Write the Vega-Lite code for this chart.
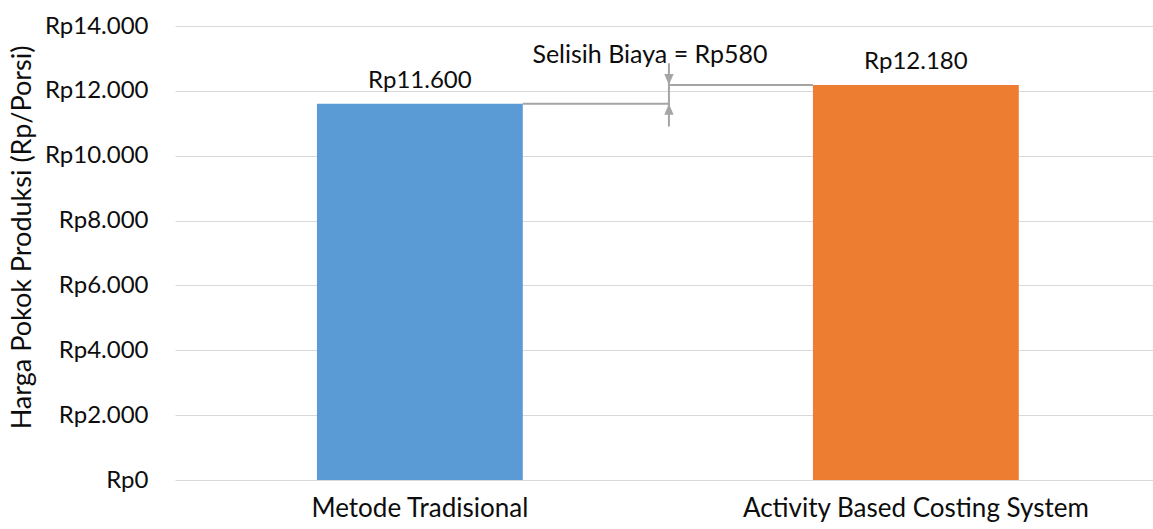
{
  "$schema": "https://vega.github.io/schema/vega-lite/v6.json",
  "autosize": "none",
  "width": 978,
  "height": 454,
  "padding": {"left": 175, "top": 26, "right": 0, "bottom": 49},
  "background": "white",
  "config": {
    "locale": {"number": {"decimal": ",", "thousands": ".", "grouping": [3], "currency": ["Rp", ""]}},
    "view": {"stroke": null},
    "font": "Lato"
  },
  "layer": [
    {
      "data": {"values": [
        {"metode": "Metode Tradisional", "biaya": 11600},
        {"metode": "Activity Based Costing System", "biaya": 12180}
      ]},
      "layer": [
        {
          "mark": {"type": "bar"},
          "encoding": {
            "x": {"field": "metode", "type": "nominal", "sort": null,
              "scale": {"domain": ["Metode Tradisional", "Activity Based Costing System"], "paddingInner": 0.585, "paddingOuter": 0.2784, "align": 0.514},
              "axis": {"title": null, "labelAngle": 0, "labelLimit": 0, "domain": false, "ticks": false, "labelFontSize": 26, "labelColor": "#0d0d0d", "labelBaseline": "alphabetic", "labelPadding": 36, "labelFont": "Lato"}},
            "y": {"field": "biaya", "type": "quantitative",
              "scale": {"domain": [0, 14000]},
              "axis": {"title": "Harga Pokok Produksi (Rp/Porsi)", "values": [0, 2000, 4000, 6000, 8000, 10000, 12000, 14000], "format": "$,.0f", "domain": false, "ticks": false, "labelFontSize": 24, "labelColor": "#0d0d0d", "labelPadding": 27, "gridColor": "#d9d9d9", "gridWidth": 1.2, "titleFontSize": 27, "titleFontWeight": "normal", "titleColor": "#0d0d0d", "titlePadding": 8, "titleY": 211, "labelFont": "Lato", "titleFont": "Lato"}},
            "color": {"field": "metode", "type": "nominal", "legend": null,
              "scale": {"domain": ["Metode Tradisional", "Activity Based Costing System"], "range": ["#5B9BD5", "#ED7D31"]}}
          }
        },
        {
          "mark": {"type": "text", "baseline": "alphabetic", "dy": -16, "fontSize": 24, "color": "#0d0d0d", "font": "Lato"},
          "encoding": {
            "x": {"field": "metode", "type": "nominal"},
            "y": {"field": "biaya", "type": "quantitative"},
            "text": {"field": "biaya", "type": "quantitative", "format": "$,.0f"}
          }
        }
      ]
    },
    {
      "data": {"values": [{"metode": "Metode Tradisional", "biaya": 11600}]},
      "mark": {"type": "rule", "color": "#a5a5a5", "strokeWidth": 2},
      "encoding": {
        "x": {"field": "metode", "type": "nominal", "bandPosition": 1},
        "x2": {"field": "metode", "bandPosition": 1.71},
        "y": {"field": "biaya", "type": "quantitative"}
      }
    },
    {
      "data": {"values": [{"metode": "Activity Based Costing System", "biaya": 12180}]},
      "mark": {"type": "rule", "color": "#a5a5a5", "strokeWidth": 2},
      "encoding": {
        "x": {"field": "metode", "type": "nominal", "bandPosition": -0.7},
        "x2": {"field": "metode", "bandPosition": 0},
        "y": {"field": "biaya", "type": "quantitative"}
      }
    },
    {
      "data": {"values": [{"metode": "Metode Tradisional", "atas": 12850, "bawah": 10900}]},
      "mark": {"type": "rule", "color": "#a5a5a5", "strokeWidth": 2},
      "encoding": {
        "x": {"field": "metode", "type": "nominal", "bandPosition": 1.71},
        "y": {"field": "atas", "type": "quantitative"},
        "y2": {"field": "bawah"}
      }
    },
    {
      "data": {"values": [{"metode": "Metode Tradisional", "biaya": 12180}]},
      "mark": {"type": "point", "filled": true, "color": "#a5a5a5", "opacity": 1, "size": 121, "shape": "M0,0L-0.85,-2L0.85,-2Z"},
      "encoding": {
        "x": {"field": "metode", "type": "nominal", "bandPosition": 1.71},
        "y": {"field": "biaya", "type": "quantitative"}
      }
    },
    {
      "data": {"values": [{"metode": "Metode Tradisional", "biaya": 11600}]},
      "mark": {"type": "point", "filled": true, "color": "#a5a5a5", "opacity": 1, "size": 121, "shape": "M0,0L-0.85,2L0.85,2Z"},
      "encoding": {
        "x": {"field": "metode", "type": "nominal", "bandPosition": 1.71},
        "y": {"field": "biaya", "type": "quantitative"}
      }
    },
    {
      "data": {"values": [{"metode": "Metode Tradisional", "biaya": 12180, "teks": "Selisih Biaya = Rp580"}]},
      "mark": {"type": "text", "baseline": "alphabetic", "dy": -22, "fontSize": 25, "color": "#0d0d0d", "font": "Lato"},
      "encoding": {
        "x": {"field": "metode", "type": "nominal", "bandPosition": 1.618},
        "y": {"field": "biaya", "type": "quantitative"},
        "text": {"field": "teks"}
      }
    }
  ]
}
